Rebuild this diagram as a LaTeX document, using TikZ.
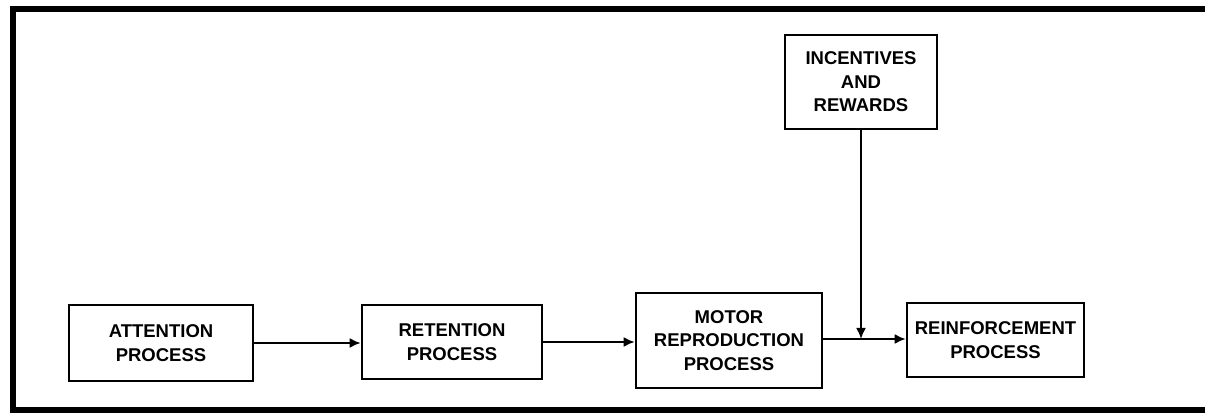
\documentclass[tikz,border=0pt]{standalone}
\usepackage{fontspec}
\setmainfont{Liberation Sans}
\usetikzlibrary{arrows.meta,positioning,calc}

\begin{document}
\begin{tikzpicture}[x=1pt,y=1pt,
    procbox/.style={draw,line width=2.6pt,align=center,inner sep=0pt,
      font=\fontsize{18.5}{23.5}\selectfont\bfseries},
    flow/.style={line width=2pt,-{Latex[length=11pt,width=10pt]}}]
  \useasboundingbox (0,0) rectangle (1205,415);
  % outer frame (cut off at the right)
  \draw[line width=5.5pt] (1215,406) -- (13,406) -- (13,5) -- (1215,5);
  % process boxes
  \node[procbox,minimum width=184pt,minimum height=76pt] (att) at (161,72) {ATTENTION\\PROCESS};
  \node[procbox,minimum width=180pt,minimum height=74pt] (ret) at (452,73) {RETENTION\\PROCESS};
  \node[procbox,minimum width=186pt,minimum height=95pt] (mot) at (729,74.5) {MOTOR\\REPRODUCTION\\PROCESS};
  \node[procbox,minimum width=177pt,minimum height=74pt] (rei) at (995.5,75) {REINFORCEMENT\\PROCESS};
  \node[procbox,minimum width=152pt,minimum height=94pt] (inc) at (861,333) {INCENTIVES\\AND\\REWARDS};
  % connectors
  \draw[flow] (att.east) -- (att.east -| ret.west);
  \draw[flow] (ret.east) -- (ret.east -| mot.west);
  \coordinate (join) at ($(inc.south |- mot.east)+(0,1.5)$);
  \draw[flow] ($(mot.east)+(0,1.5)$) -- (join -| rei.west);
  \draw[flow] (inc.south) -- (join);
\end{tikzpicture}
\end{document}
